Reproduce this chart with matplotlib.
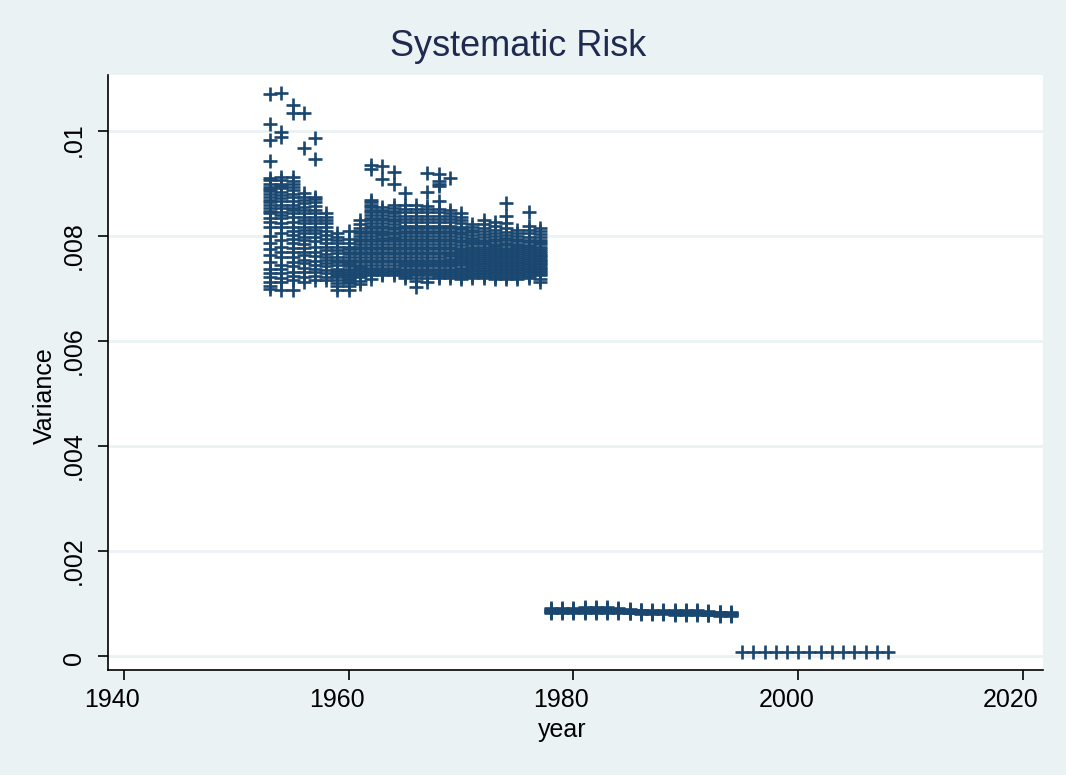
import numpy as np
import matplotlib.pyplot as plt
from matplotlib.transforms import offset_copy

# variance per year (one list per year)
early_years = list(range(1953, 1978))
early_vals = [
    [0.01070, 0.01013, 0.00983, 0.00942, 0.00910, 0.00906, 0.00900, 0.00894, 0.00890, 0.00885, 0.00880,
     0.00875, 0.00869, 0.00864, 0.00859, 0.00853, 0.00848, 0.00843, 0.00835, 0.00827, 0.00818, 0.00800,
     0.00786, 0.00775, 0.00764, 0.00751, 0.00738, 0.00730, 0.00722, 0.00713, 0.00705, 0.00699],  # 1953
    [0.01073, 0.00999, 0.00989, 0.00913, 0.00906, 0.00900, 0.00895, 0.00891, 0.00884, 0.00878, 0.00872,
     0.00866, 0.00860, 0.00853, 0.00846, 0.00840, 0.00834, 0.00825, 0.00817, 0.00806, 0.00792, 0.00779,
     0.00770, 0.00760, 0.00745, 0.00737, 0.00730, 0.00720, 0.00712, 0.00697],  # 1954
    [0.01050, 0.01034, 0.00913, 0.00905, 0.00900, 0.00893, 0.00888, 0.00880, 0.00875, 0.00867, 0.00859,
     0.00853, 0.00850, 0.00843, 0.00836, 0.00827, 0.00818, 0.00810, 0.00802, 0.00795, 0.00786, 0.00778,
     0.00770, 0.00760, 0.00751, 0.00742, 0.00732, 0.00724, 0.00716, 0.00697],  # 1955
    [0.01034, 0.00967, 0.00881, 0.00875, 0.00869, 0.00862, 0.00856, 0.00850, 0.00843, 0.00836, 0.00830,
     0.00824, 0.00818, 0.00811, 0.00805, 0.00798, 0.00792, 0.00784, 0.00777, 0.00770, 0.00764, 0.00755,
     0.00748, 0.00740, 0.00732, 0.00722, 0.00713],  # 1956
    [0.00986, 0.00947, 0.00875, 0.00870, 0.00865, 0.00857, 0.00850, 0.00843, 0.00837, 0.00830, 0.00824,
     0.00818, 0.00811, 0.00805, 0.00799, 0.00790, 0.00780, 0.00770, 0.00761, 0.00752, 0.00745, 0.00738,
     0.00732, 0.00724, 0.00716],  # 1957
    [0.00843, 0.00836, 0.00830, 0.00824, 0.00818, 0.00810, 0.00802, 0.00794, 0.00786, 0.00780, 0.00773,
     0.00766, 0.00760, 0.00754, 0.00748, 0.00742, 0.00736, 0.00729, 0.00722, 0.00716],  # 1958
    [0.00805, 0.00798, 0.00792, 0.00786, 0.00780, 0.00774, 0.00767, 0.00760, 0.00755, 0.00751, 0.00745,
     0.00738, 0.00734, 0.00730, 0.00726, 0.00722, 0.00716, 0.00710, 0.00704, 0.00697],  # 1959
    [0.00810, 0.00795, 0.00787, 0.00780, 0.00775, 0.00770, 0.00765, 0.00760, 0.00755, 0.00750, 0.00746,
     0.00742, 0.00738, 0.00735, 0.00731, 0.00728, 0.00725, 0.00722, 0.00719, 0.00716, 0.00713, 0.00710,
     0.00704, 0.00697],  # 1960
    [0.00830, 0.00822, 0.00815, 0.00810, 0.00805, 0.00800, 0.00795, 0.00790, 0.00785, 0.00780, 0.00775,
     0.00770, 0.00765, 0.00760, 0.00755, 0.00750, 0.00745, 0.00741, 0.00737, 0.00733, 0.00730, 0.00726,
     0.00722, 0.00715, 0.00708],  # 1961
    [0.00935, 0.00928, 0.00869, 0.00864, 0.00860, 0.00855, 0.00850, 0.00845, 0.00840, 0.00835, 0.00830,
     0.00825, 0.00820, 0.00815, 0.00810, 0.00805, 0.00800, 0.00795, 0.00790, 0.00785, 0.00780, 0.00775,
     0.00770, 0.00765, 0.00760, 0.00755, 0.00750, 0.00745, 0.00740, 0.00736, 0.00732, 0.00728, 0.00725,
     0.00718],  # 1962
    [0.00933, 0.00908, 0.00855, 0.00850, 0.00845, 0.00840, 0.00835, 0.00830, 0.00825, 0.00820, 0.00815,
     0.00810, 0.00805, 0.00801, 0.00797, 0.00793, 0.00790, 0.00785, 0.00780, 0.00775, 0.00770, 0.00765,
     0.00760, 0.00755, 0.00750, 0.00745, 0.00740, 0.00736, 0.00732, 0.00728, 0.00725],  # 1963
    [0.00922, 0.00900, 0.00860, 0.00854, 0.00848, 0.00843, 0.00838, 0.00833, 0.00828, 0.00823, 0.00818,
     0.00813, 0.00808, 0.00803, 0.00798, 0.00794, 0.00790, 0.00785, 0.00780, 0.00775, 0.00770, 0.00765,
     0.00760, 0.00755, 0.00750, 0.00745, 0.00740, 0.00736, 0.00733, 0.00729, 0.00726],  # 1964
    [0.00881, 0.00860, 0.00852, 0.00845, 0.00838, 0.00832, 0.00826, 0.00820, 0.00815, 0.00810, 0.00805,
     0.00800, 0.00795, 0.00790, 0.00785, 0.00780, 0.00775, 0.00770, 0.00765, 0.00760, 0.00755, 0.00750,
     0.00746, 0.00742, 0.00738, 0.00735, 0.00731, 0.00728, 0.00724, 0.00720],  # 1965
    [0.00859, 0.00852, 0.00845, 0.00838, 0.00832, 0.00826, 0.00820, 0.00815, 0.00810, 0.00805, 0.00800,
     0.00795, 0.00790, 0.00785, 0.00780, 0.00775, 0.00770, 0.00765, 0.00760, 0.00755, 0.00750, 0.00746,
     0.00742, 0.00738, 0.00734, 0.00730, 0.00726, 0.00720, 0.00715, 0.00703],  # 1966
    [0.00921, 0.00883, 0.00858, 0.00851, 0.00845, 0.00838, 0.00832, 0.00826, 0.00820, 0.00815, 0.00810,
     0.00805, 0.00800, 0.00795, 0.00790, 0.00785, 0.00780, 0.00775, 0.00770, 0.00765, 0.00760, 0.00755,
     0.00750, 0.00746, 0.00742, 0.00738, 0.00734, 0.00730, 0.00726, 0.00720, 0.00713],  # 1967
    [0.00918, 0.00905, 0.00900, 0.00895, 0.00866, 0.00852, 0.00845, 0.00838, 0.00832, 0.00826, 0.00820,
     0.00815, 0.00810, 0.00805, 0.00800, 0.00795, 0.00790, 0.00785, 0.00780, 0.00775, 0.00770, 0.00765,
     0.00760, 0.00755, 0.00750, 0.00746, 0.00742, 0.00738, 0.00735, 0.00731, 0.00728, 0.00724, 0.00720],  # 1968
    [0.00910, 0.00850, 0.00844, 0.00838, 0.00832, 0.00826, 0.00820, 0.00815, 0.00810, 0.00805, 0.00800,
     0.00795, 0.00790, 0.00785, 0.00780, 0.00775, 0.00770, 0.00765, 0.00761, 0.00757, 0.00753, 0.00750,
     0.00746, 0.00742, 0.00738, 0.00735, 0.00731, 0.00728, 0.00724, 0.00720],  # 1969
    [0.00843, 0.00836, 0.00830, 0.00824, 0.00818, 0.00813, 0.00808, 0.00803, 0.00798, 0.00793, 0.00788,
     0.00783, 0.00778, 0.00774, 0.00770, 0.00766, 0.00762, 0.00758, 0.00755, 0.00751, 0.00748, 0.00744,
     0.00740, 0.00737, 0.00733, 0.00730, 0.00726, 0.00722, 0.00719],  # 1970
    [0.00823, 0.00817, 0.00812, 0.00807, 0.00802, 0.00797, 0.00793, 0.00788, 0.00784, 0.00779, 0.00775,
     0.00771, 0.00767, 0.00763, 0.00760, 0.00756, 0.00753, 0.00749, 0.00746, 0.00743, 0.00740, 0.00736,
     0.00733, 0.00730, 0.00727, 0.00723, 0.00720],  # 1971
    [0.00830, 0.00822, 0.00815, 0.00809, 0.00803, 0.00798, 0.00793, 0.00788, 0.00784, 0.00779, 0.00775,
     0.00771, 0.00767, 0.00763, 0.00760, 0.00756, 0.00753, 0.00749, 0.00746, 0.00743, 0.00740, 0.00736,
     0.00733, 0.00730, 0.00727, 0.00723, 0.00720],  # 1972
    [0.00827, 0.00819, 0.00812, 0.00806, 0.00800, 0.00795, 0.00790, 0.00785, 0.00781, 0.00777, 0.00773,
     0.00769, 0.00765, 0.00761, 0.00758, 0.00754, 0.00751, 0.00748, 0.00745, 0.00741, 0.00738, 0.00735,
     0.00732, 0.00729, 0.00726, 0.00722, 0.00718],  # 1973
    [0.00863, 0.00838, 0.00825, 0.00815, 0.00808, 0.00802, 0.00797, 0.00792, 0.00787, 0.00782, 0.00777,
     0.00773, 0.00769, 0.00765, 0.00761, 0.00758, 0.00754, 0.00751, 0.00748, 0.00745, 0.00741, 0.00738,
     0.00735, 0.00732, 0.00729, 0.00726, 0.00722, 0.00718],  # 1974
    [0.00811, 0.00805, 0.00800, 0.00795, 0.00790, 0.00785, 0.00781, 0.00777, 0.00773, 0.00769, 0.00765,
     0.00761, 0.00758, 0.00754, 0.00751, 0.00748, 0.00745, 0.00741, 0.00738, 0.00735, 0.00732, 0.00729,
     0.00726, 0.00722, 0.00718],  # 1975
    [0.00846, 0.00820, 0.00812, 0.00805, 0.00799, 0.00793, 0.00788, 0.00783, 0.00779, 0.00775, 0.00771,
     0.00767, 0.00763, 0.00760, 0.00756, 0.00753, 0.00749, 0.00746, 0.00743, 0.00740, 0.00737, 0.00734,
     0.00731, 0.00728, 0.00724, 0.00720],  # 1976
    [0.00815, 0.00809, 0.00803, 0.00798, 0.00793, 0.00788, 0.00784, 0.00780, 0.00776, 0.00772, 0.00768,
     0.00764, 0.00761, 0.00758, 0.00755, 0.00752, 0.00749, 0.00746, 0.00743, 0.00740, 0.00737, 0.00734,
     0.00731, 0.00728, 0.00725, 0.00718, 0.00712],  # 1977
]

mid_years = list(range(1978, 1995))
mid_vals = [
    [0.00091, 0.00089, 0.00087, 0.00086, 0.00084, 0.00083, 0.00081],  # 1978
    [0.00092, 0.00090, 0.00088, 0.00086, 0.00085, 0.00083, 0.00081],  # 1979
    [0.00092, 0.00090, 0.00088, 0.00086, 0.00085, 0.00083, 0.00082],  # 1980
    [0.00093, 0.00091, 0.00089, 0.00087, 0.00085, 0.00084, 0.00082],  # 1981
    [0.00094, 0.00092, 0.00090, 0.00088, 0.00086, 0.00084, 0.00082],  # 1982
    [0.00093, 0.00091, 0.00089, 0.00087, 0.00085, 0.00083, 0.00082],  # 1983
    [0.00091, 0.00089, 0.00088, 0.00086, 0.00084, 0.00083, 0.00081],  # 1984
    [0.00089, 0.00088, 0.00087, 0.00085, 0.00083, 0.00082, 0.00081],  # 1985
    [0.00088, 0.00087, 0.00086, 0.00084, 0.00083, 0.00081, 0.00080],  # 1986
    [0.00088, 0.00086, 0.00085, 0.00084, 0.00082, 0.00081, 0.00080],  # 1987
    [0.00087, 0.00086, 0.00085, 0.00083, 0.00082, 0.00081, 0.00080],  # 1988
    [0.00087, 0.00086, 0.00084, 0.00083, 0.00082, 0.00080, 0.00079],  # 1989
    [0.00088, 0.00086, 0.00085, 0.00083, 0.00082, 0.00080, 0.00079],  # 1990
    [0.00087, 0.00085, 0.00084, 0.00082, 0.00081, 0.00080, 0.00079],  # 1991
    [0.00085, 0.00084, 0.00083, 0.00081, 0.00080, 0.00079, 0.00078],  # 1992
    [0.00084, 0.00083, 0.00082, 0.00080, 0.00079, 0.00078, 0.00077],  # 1993
    [0.00084, 0.00082, 0.00081, 0.00080, 0.00079, 0.00078, 0.00077],  # 1994
]

late_years = list(range(1995, 2009))
late_vals = [0.00008, 0.00008, 0.00008, 0.00008, 0.00008, 0.00008, 0.00008,
             0.00008, 0.00008, 0.00008, 0.00008, 0.00008, 0.00008, 0.00008]

yticks = [0, 0.002, 0.004, 0.006, 0.008, 0.01]
ytick_labels = ['0', '.002', '.004', '.006', '.008', '.01']
xticks = [1940, 1960, 1980, 2000, 2020]

plt.rcParams['font.family'] = ['Liberation Sans', 'DejaVu Sans']

navy = '#1a476f'
bg = '#eaf2f3'

fig = plt.figure(figsize=(10.66, 7.75), dpi=100, facecolor=bg)
ax = fig.add_axes([0.1013, 0.1355, 0.8771, 0.7677])
ax.set_facecolor('white')

xs, ys = [], []
for yr, vals in zip(early_years, early_vals):
    xs += [yr] * len(vals)
    ys += vals
for yr, vals in zip(mid_years, mid_vals):
    xs += [yr] * len(vals)
    ys += vals
xs += late_years
ys += late_vals

ax.plot(xs, ys, linestyle='none', marker='+', markersize=10.5, markeredgewidth=1.9,
        color=navy, zorder=3)

ax.set_xlim(1938.58, 2021.78)
ax.set_ylim(-0.000267, 0.011067)
ax.set_xticks(xticks)
ax.set_yticks(yticks)
ax.tick_params(axis='both', direction='out', length=7, width=1.2,
               labelbottom=False, labelleft=False)
ax.grid(True, axis='y', color=bg, linewidth=2)
ax.set_axisbelow(True)
for s in ['top', 'right']:
    ax.spines[s].set_visible(False)
for s in ['left', 'bottom']:
    ax.spines[s].set_linewidth(1.2)

# tick labels sit a little off-centre, as in the original rendering
xlab_tr = offset_copy(ax.get_xaxis_transform(), fig=fig, x=-12, y=-18, units='dots')
for v in xticks:
    ax.text(v, 0, str(v), transform=xlab_tr, ha='center', va='top', fontsize=18)

y_shift = [2.5, 10, 10, 10, 10, 9]
for v, lab, sh in zip(yticks, ytick_labels, y_shift):
    tr = offset_copy(ax.get_yaxis_transform(), fig=fig, x=-22, y=-sh, units='dots')
    ax.text(0, v, lab, transform=tr, ha='right', va='center', rotation=90, fontsize=18)

fig.text(562 / 1066, 1 - 718 / 775, 'year', ha='center', va='top', fontsize=18)
fig.text(57 / 1066, 1 - 396 / 775, 'Variance', ha='right', va='center', rotation=90, fontsize=18)
fig.text(0.486, 0.94, 'Systematic Risk', ha='center', va='center', fontsize=26, color='#1e2a4f')

fig.savefig('out.png', dpi=100, facecolor=bg)
